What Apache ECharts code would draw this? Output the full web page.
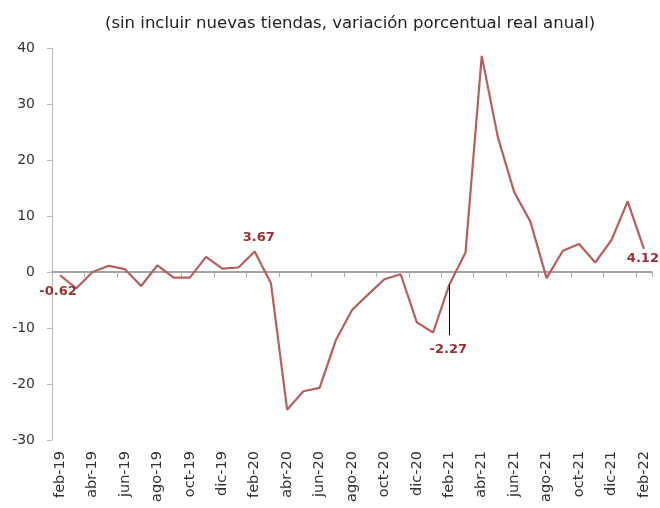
<!DOCTYPE html>
<html>
<head>
<meta charset="utf-8">
<script src="https://cdn.jsdelivr.net/npm/echarts@6/dist/echarts.min.js"></script>
<style>
  html, body { margin: 0; padding: 0; background: #fff; }
  #chart { width: 660px; height: 508px; }
</style>
</head>
<body>
<div id="chart"></div>
<script>
const months = [
  'feb-19', 'mar-19', 'abr-19', 'may-19', 'jun-19', 'jul-19', 'ago-19', 'sep-19', 'oct-19', 'nov-19', 'dic-19', 'ene-20',
  'feb-20', 'mar-20', 'abr-20', 'may-20', 'jun-20', 'jul-20', 'ago-20', 'sep-20', 'oct-20', 'nov-20', 'dic-20', 'ene-21',
  'feb-21', 'mar-21', 'abr-21', 'may-21', 'jun-21', 'jul-21', 'ago-21', 'sep-21', 'oct-21', 'nov-21', 'dic-21', 'ene-22',
  'feb-22'
]
const values = [
  -0.62, -2.9, 0.0, 1.1, 0.5, -2.5, 1.2, -1.0, -1.0, 2.7, 0.6, 0.8,
  3.67, -2.0, -24.6, -21.3, -20.7, -12.2, -6.8, -4.0, -1.3, -0.4, -9.0, -10.8,
  -2.27, 3.5, 38.6, 24.0, 14.3, 9.0, -1.1, 3.8, 5.0, 1.7, 5.7, 12.6,
  4.12
]
const yTicks = [-30, -20, -10, 0, 10, 20, 30, 40]
const titleText = '(sin incluir nuevas tiendas, variación porcentual real anual)'

// which points carry a label, and where
const labelled = {
  0: { position: 'bottom', distance: 9, offset: [-2, 0] },
  12: { position: 'top', distance: 6, offset: [4, 0] },
  24: { position: 'bottom', distance: 57, offset: [-1, 0] },
  36: { position: 'bottom', distance: 2, offset: [-1, 0] }
}

const lineColor = '#b5605f'
const labelColor = '#983232'
const font = 'DejaVu Sans'

const seriesData = values.map((v, i) => {
  if (!labelled[i]) return v
  return {
    value: v,
    label: Object.assign({
      show: true,
      color: labelColor,
      fontWeight: 'bold',
      fontSize: 13,
      fontFamily: font
    }, labelled[i])
  }
})

const myChart = echarts.init(document.getElementById('chart'))
const option = {
  animation: false,
  title: {
    text: titleText,
    left: 100,
    top: 10,
    textStyle: { fontFamily: font, fontSize: 16.5, fontWeight: 'normal', color: '#222' }
  },
  grid: { left: 52, right: 8, top: 48, bottom: 68 },
  xAxis: [
    {
      type: 'category',
      data: months,
      boundaryGap: true,
      axisLine: { onZero: true, lineStyle: { color: '#888', width: 1.5 } },
      axisTick: { show: true, interval: 1, length: 5, lineStyle: { color: '#aaa' } },
      axisLabel: { show: false }
    },
    {
      type: 'category',
      data: months,
      position: 'bottom',
      boundaryGap: true,
      axisLine: { show: false },
      axisTick: { show: false },
      axisLabel: {
        interval: 1,
        rotate: 90,
        margin: 11,
        fontFamily: font,
        fontSize: 14.5,
        color: '#333'
      }
    }
  ],
  yAxis: {
    type: 'value',
    min: yTicks[0],
    max: yTicks[yTicks.length - 1],
    interval: 10,
    splitLine: { show: false },
    axisLine: { show: true, lineStyle: { color: '#bbb' } },
    axisTick: { show: true, length: 5, lineStyle: { color: '#bbb' } },
    axisLabel: { fontFamily: font, fontSize: 14, color: '#333', margin: 17 }
  },
  series: [
    {
      type: 'line',
      xAxisIndex: 0,
      data: seriesData,
      symbol: 'circle',
      symbolSize: 2,
      showSymbol: true,
      showAllSymbol: true,
      itemStyle: { color: 'rgba(0,0,0,0)', borderWidth: 0 },
      lineStyle: { color: lineColor, width: 2.2 },
      markLine: {
        silent: true,
        symbol: 'none',
        label: { show: false },
        lineStyle: { color: '#000', width: 1, type: 'solid' },
        data: [[
          { coord: [months[24], values[24]] },
          { coord: [months[24], -11.3] }
        ]]
      }
    }
  ]
}
myChart.setOption(option)
</script>
</body>
</html>
